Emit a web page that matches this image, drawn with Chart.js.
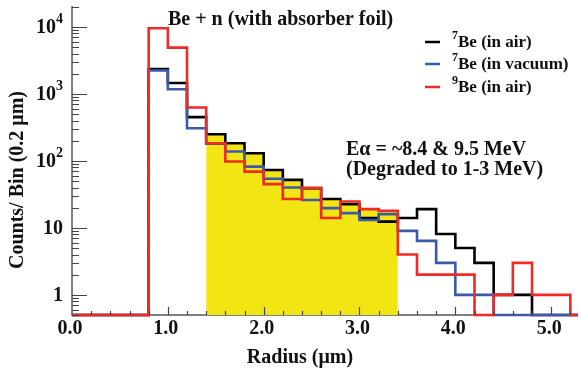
<!DOCTYPE html>
<html>
<head>
<meta charset="utf-8">
<script src="https://cdn.jsdelivr.net/npm/chart.js@4.4.1/dist/chart.umd.min.js"></script>
<style>
  body { margin: 0; background: #fff; }
  #wrap { width: 580px; height: 373px; }
</style>
</head>
<body>
<div id="wrap"><canvas id="histChart" width="580" height="373"></canvas></div>
<script>
// lower edge of each 0.2 um bin
const binEdges = [0.0, 0.2, 0.4, 0.6, 0.8, 1.0, 1.2, 1.4, 1.6, 1.8, 2.0, 2.2, 2.4, 2.6,
                  2.8, 3.0, 3.2, 3.4, 3.6, 3.8, 4.0, 4.2, 4.4, 4.6, 4.8, 5.0, 5.2];
// counts per bin (0 = empty bin, drawn on the floor)
const be7Air = [0, 0, 0, 0, 2350, 1450, 450, 250, 183, 130, 73, 52, 39, 27,
                22.5, 14, 12.4, 14, 19, 8.1, 5, 3, 1, 1, 0, 0, 0];
const be7Vac = [0, 0, 0, 0, 2230, 1170, 307, 180, 138, 82, 54, 40, 26, 19.7,
                16.6, 13.1, 16, 9, 6.4, 3, 1, 1, 0, 0, 0, 0, 0];
const be9Air = [0, 0, 0, 0, 9550, 4900, 625, 183, 98, 69, 45, 27, 39.5, 14,
                24.7, 19, 18, 4, 2, 2, 2, 0, 1, 3, 1, 1, 0];
const seriesNames = ['Be (in air)', 'Be (in vacuum)', 'Be (in air)'];
const seriesMass = ['7', '7', '9'];
const seriesColors = ['#000000', '#3b5ba9', '#ee2b24'];

// shaded range (um)
const shadeFrom = 1.4;
const shadeTo = 3.4;

const X_MIN = 0, X_MAX = 5.28;
const Y_MIN = 0.5, Y_MAX = 20500;
const xTicks = [0, 1, 2, 3, 4, 5];
const xTickLabels = ['0.0', '1.0', '2.0', '3.0', '4.0', '5.0'];
const yTicks = [1, 10, 100, 1000, 10000];
const yTickBase = ['1', '10', '10', '10', '10'];
const yTickExp = ['', '', '2', '3', '4'];

const FONT = '"Liberation Serif", "DejaVu Serif", serif';

// turn bin values into stepped points
function toSteps(values) {
    const pts = binEdges.map((e, i) => ({ x: e, y: values[i] > 0 ? values[i] : Y_MIN }));
    pts.push({ x: X_MAX, y: pts[pts.length - 1].y });
    return pts;
}

function shadePoints() {
    const pts = [];
    binEdges.forEach((e, i) => {
        if (e >= shadeFrom - 1e-6 && e < shadeTo - 1e-6) {
            pts.push({ x: e, y: Math.max(be7Air[i], be7Vac[i], be9Air[i]) });
        }
    });
    pts.push({ x: shadeTo, y: pts[pts.length - 1].y });
    return pts;
}

function drawSup(ctx, base, exp, x, y, size, align) {
    ctx.font = 'bold ' + size + 'px ' + FONT;
    const wb = ctx.measureText(base).width;
    ctx.font = 'bold ' + Math.round(size * 0.7) + 'px ' + FONT;
    const we = exp ? ctx.measureText(exp).width : 0;
    let x0 = x;
    if (align === 'right') x0 = x - wb - we;
    if (align === 'center') x0 = x - (wb + we) / 2;
    ctx.textAlign = 'left';
    ctx.textBaseline = 'middle';
    ctx.font = 'bold ' + size + 'px ' + FONT;
    ctx.fillText(base, x0, y);
    if (exp) {
        ctx.font = 'bold ' + Math.round(size * 0.7) + 'px ' + FONT;
        ctx.fillText(exp, x0 + wb, y - size * 0.4);
    }
}

const axisPlugin = {
    id: 'axisPlugin',
    beforeDatasetsDraw(chart) {
        const { ctx, chartArea: a } = chart;
        ctx.save();
        ctx.strokeStyle = '#555';
        ctx.lineWidth = 1.5;
        ctx.beginPath();
        ctx.moveTo(a.left, a.top);
        ctx.lineTo(a.left, a.bottom);
        ctx.lineTo(a.right, a.bottom);
        ctx.stroke();
        ctx.restore();
    },
    afterDatasetsDraw(chart) {
        const { ctx, chartArea: a, scales } = chart;
        const xs = scales.x, ys = scales.y;
        ctx.save();
        ctx.strokeStyle = '#444';
        ctx.lineWidth = 1.2;
        ctx.beginPath();
        // x ticks every 0.2, long at integers
        for (let i = 1; i * 0.2 <= X_MAX; i++) {
            const px = Math.round(xs.getPixelForValue(i * 0.2)) + 0.5;
            const len = i % 5 === 0 ? 8 : 4;
            ctx.moveTo(px, a.bottom);
            ctx.lineTo(px, a.bottom - len);
        }
        // y ticks, decades long
        for (let d = -1; d <= 4; d++) {
            for (let m = 1; m <= 9; m++) {
                const v = m * Math.pow(10, d);
                if (v < Y_MIN || v > Y_MAX) continue;
                const py = Math.round(ys.getPixelForValue(v)) + 0.5;
                const len = m === 1 ? 15 : 7;
                ctx.moveTo(a.left, py);
                ctx.lineTo(a.left + len, py);
            }
        }
        ctx.stroke();

        ctx.fillStyle = '#111';
        // x tick labels
        ctx.font = 'bold 20px ' + FONT;
        ctx.textAlign = 'center';
        ctx.textBaseline = 'middle';
        xTicks.forEach((t, i) => {
            ctx.fillText(xTickLabels[i], xs.getPixelForValue(t) - 2, a.bottom + 14);
        });
        // y tick labels
        yTicks.forEach((t, i) => {
            drawSup(ctx, yTickBase[i], yTickExp[i], a.left - 9, ys.getPixelForValue(t) + 1, 20, 'right');
        });

        // axis titles
        ctx.font = 'bold 20px ' + FONT;
        ctx.textAlign = 'center';
        ctx.textBaseline = 'middle';
        ctx.fillText('Radius (\u03bcm)', 300, 358);
        ctx.save();
        ctx.translate(18, 180);
        ctx.rotate(-Math.PI / 2);
        ctx.fillText('Counts/ Bin (0.2 \u03bcm)', 0, 0);
        ctx.restore();

        // annotations
        ctx.textAlign = 'left';
        ctx.fillText('Be + n (with absorber foil)', 168, 20);
        ctx.fillText('E\u03b1 = ~8.4 & 9.5 MeV', 346, 150);
        ctx.fillText('(Degraded to 1-3 MeV)', 346, 170);

        // legend
        const legY = [42, 64, 87];
        seriesNames.forEach((name, i) => {
            ctx.strokeStyle = seriesColors[i];
            ctx.lineWidth = 2.5;
            ctx.beginPath();
            ctx.moveTo(425, legY[i]);
            ctx.lineTo(440, legY[i]);
            ctx.stroke();
            ctx.fillStyle = '#111';
            ctx.font = 'bold 12px ' + FONT;
            ctx.fillText(seriesMass[i], 452, legY[i] - 6);
            ctx.font = 'bold 17px ' + FONT;
            ctx.fillText(name, 458, legY[i] + 1);
        });
        ctx.restore();
    }
};

function lineSet(label, values, color, order) {
    return {
        label: label,
        data: toSteps(values),
        borderColor: color,
        borderWidth: 2.6,
        stepped: 'before',
        pointRadius: 0,
        fill: false,
        clip: false,
        order: order
    };
}

const ctx = document.getElementById('histChart').getContext('2d');
const chart = new Chart(ctx, {
    type: 'line',
    data: {
        datasets: [
            {
                label: 'shade',
                data: shadePoints(),
                backgroundColor: '#f2e514',
                borderWidth: 0,
                stepped: 'before',
                pointRadius: 0,
                fill: 'start',
                order: 3
            },
            lineSet(seriesMass[0] + seriesNames[0], be7Air, seriesColors[0], 2),
            lineSet(seriesMass[1] + seriesNames[1], be7Vac, seriesColors[1], 1),
            lineSet(seriesMass[2] + seriesNames[2], be9Air, seriesColors[2], 0)
        ]
    },
    options: {
        responsive: false,
        animation: false,
        layout: { padding: { left: 72, right: 2, top: 6, bottom: 58 } },
        plugins: {
            legend: { display: false },
            tooltip: { enabled: false }
        },
        scales: {
            x: { type: 'linear', min: X_MIN, max: X_MAX, display: false },
            y: { type: 'logarithmic', min: Y_MIN, max: Y_MAX, display: false }
        }
    },
    plugins: [axisPlugin]
});
</script>
</body>
</html>
